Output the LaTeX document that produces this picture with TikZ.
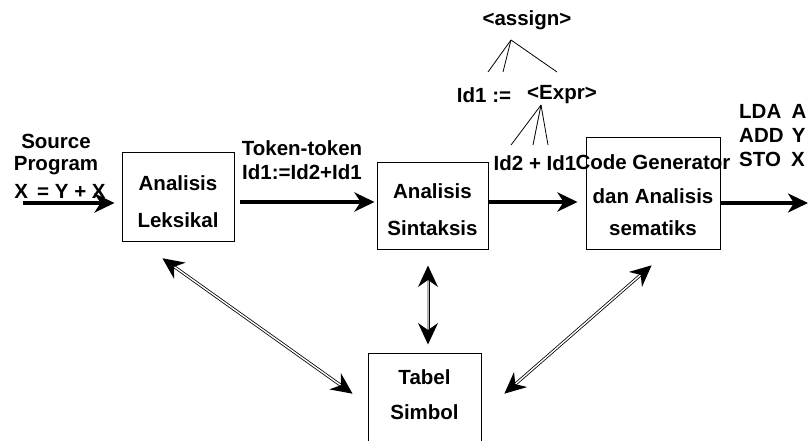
\documentclass[tikz,border=0pt]{standalone}
\usepackage{fontspec}
\setmainfont{Liberation Sans}
\usetikzlibrary{arrows.meta,calc}
% filled stealth-shaped head at #1 pointing away from #2
\newcommand\linkhead[2]{%
  \fill ($(#1)!0.5pt!(#2)$)
    -- ($($(#1)!22pt!(#2)$)!10pt!90:(#1)$)
    -- ($(#1)!15pt!(#2)$)
    -- ($($(#1)!22pt!(#2)$)!10pt!-90:(#1)$) -- cycle;}
\begin{document}
\begin{tikzpicture}[x=1pt,y=-1pt,
  every node/.style={font=\fontsize{20.5}{20.5}\selectfont\bfseries, inner sep=0pt},
  box/.style={draw, line width=0.9pt, rectangle},
  flow/.style={line width=3.8pt, -{Stealth[length=20pt,width=19pt,inset=6pt]}},
  linkshaft/.style={double, double distance=1.4pt, line width=0.8pt,
    shorten <=15pt, shorten >=15pt},
  tree/.style={line width=0.8pt}]
\useasboundingbox (0,0) rectangle (808,441);

% processing stages
\node[box, minimum width=112pt, minimum height=89pt] (leks) at (178,196.5) {};
\node at (178,183) {Analisis};
\node at (178,220) {Leksikal};

\node[box, minimum width=111pt, minimum height=87pt] (sint) at (432.5,205.5) {};
\node at (432.5,191) {Analisis};
\node at (432.5,228) {Sintaksis};

\node[box, minimum width=134pt, minimum height=112pt] (code) at (653,193) {};
\node at (653,162) {Code Generator};
\node at (653,196) {dan Analisis};
\node at (653,228) {sematiks};

\begin{scope}
\clip (0,0) rectangle (808,441);
\node[box, minimum width=113pt, minimum height=100pt] (tabel) at (424.5,403) {};
\end{scope}
\node at (424.5,377) {Tabel};
\node at (424.5,412) {Simbol};

% input / output texts
\node at (56,141) {Source};
\node at (56,166) {Program};
\node at (60,191) {X\hspace{0.45em}= Y + X};
\node at (302,148) {Token-token};
\node at (302,172) {Id1:=Id2+Id1};
\node[anchor=west, align=left, font=\fontsize{20.5}{24}\selectfont\bfseries] at (739,136)
  {LDA\hspace{0.5em}A\\ADD\hspace{0.4em}Y\\STO\hspace{0.5em}X};

% parse tree
\node (assign) at (527,20) {<assign>};
\node (id1) at (484,95) {Id1 :=};
\node (expr) at (562,95) {<Expr>};
\node (leaf) at (535,163) {Id2 + Id1};
\coordinate (ra) at (511,40);
\coordinate (rb) at (541,105);
\draw[tree] (ra) -- (488,72);
\draw[tree] (ra) -- (503,72);
\draw[tree] (ra) -- (557,72);
\draw[tree] (rb) -- (511,145);
\draw[tree] (rb) -- (533,145);
\draw[tree] (rb) -- (548,145);

% data flow
\coordinate (src) at (23,203);
\coordinate (out) at (808,203);
\draw[flow] (src) -- (leks.west |- src) [shorten >=7pt];
\draw[flow, shorten <=6pt] (leks.east |- 0,202) -- ([xshift=-2pt]sint.west |- 0,202);
\draw[flow] (sint.east |- 0,202) -- ([xshift=-8pt]code.west |- 0,202);
\draw[flow] (code.east |- out) -- (out);

% symbol table links: hollow double shaft with solid heads
\coordinate (l1) at (162,258);
\coordinate (l2) at (353,394);
\coordinate (s1) at (428,265);
\coordinate (s2) at (428,345);
\coordinate (c1) at (652,265);
\coordinate (c2) at (504,394);
\draw[linkshaft] (l1) -- (l2);
\draw[linkshaft, double=gray!60] (s1) -- (s2);
\draw[linkshaft] (c1) -- (c2);
\linkhead{l1}{l2}\linkhead{l2}{l1}
\linkhead{s1}{s2}\linkhead{s2}{s1}
\linkhead{c1}{c2}\linkhead{c2}{c1}
\end{tikzpicture}
\end{document}
